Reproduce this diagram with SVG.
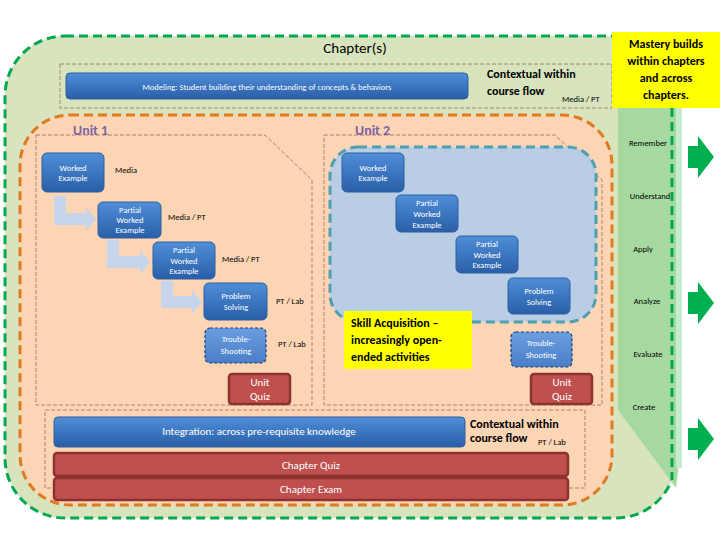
<svg xmlns="http://www.w3.org/2000/svg" width="720" height="540" viewBox="0 0 720 540">
<defs>
<linearGradient id="bg" x1="0" y1="0" x2="0" y2="1"><stop offset="0" stop-color="#4f8fd8"/><stop offset="1" stop-color="#2a5ea8"/></linearGradient>
<linearGradient id="bg2" x1="0" y1="0" x2="0" y2="1"><stop offset="0" stop-color="#6a9ee0"/><stop offset="1" stop-color="#4a7fc8"/></linearGradient>
</defs>
<style>
text{font-family:Calibri,"Liberation Sans",sans-serif}
.n{fill:url(#bg);stroke:#2f5f9f;stroke-width:1}
.ts{fill:url(#bg2);stroke:#1f3f7f;stroke-width:1.2;stroke-dasharray:3 2}
.q{fill:#c0504d;stroke:#8c3330;stroke-width:2.5}
.w{fill:#fff;font-size:8.5px;text-anchor:middle}
.wl{fill:#fff;font-size:11px;text-anchor:middle}
.k{fill:#000;font-size:8.5px}
.kb{fill:#000;font-size:12px;font-weight:bold}
.dd{fill:none;stroke:#9a6a5a;stroke-width:0.8;stroke-dasharray:4 2}
.u{fill:#8064a2;font-size:14px;font-weight:bold}
.fl{fill:#c6d5ea}
.ga{fill:#00b050}
</style>
<rect x="5" y="36" width="671" height="482" rx="60" fill="#d7e4bd" stroke="#00a850" stroke-width="3" stroke-dasharray="9 5"/>
<rect x="60" y="64" width="552" height="44" class="dd"/>
<text x="355" y="53" font-size="15" text-anchor="middle" fill="#000">Chapter(s)</text>
<g id="modeling"><rect x="66" y="73" width="402" height="26" rx="4" class="n"/><text x="267" y="90" class="w" font-size="10.5">Modeling: Student building their understanding of concepts &amp; behaviors</text></g>
<text x="487" y="78" class="kb">Contextual within</text>
<text x="487" y="95" class="kb">course flow</text>
<text x="562" y="102" class="k">Media / PT</text>
<g id="bloom">
<path d="M618,108 H678 V472 L676,488 L618,410 Z" fill="#a6d9a0"/>
<rect x="676" y="108" width="6" height="360" fill="#c6ecd0"/>
<line x1="672" y1="108" x2="672" y2="480" stroke="#00a850" stroke-width="3" stroke-dasharray="9 5"/>
<text x="648" y="146" class="k" text-anchor="middle">Remember</text>
<text x="650" y="199" class="k" text-anchor="middle">Understand</text>
<text x="643" y="252" class="k" text-anchor="middle">Apply</text>
<text x="647" y="304" class="k" text-anchor="middle">Analyze</text>
<text x="648" y="357" class="k" text-anchor="middle">Evaluate</text>
<text x="644" y="410" class="k" text-anchor="middle">Create</text>
<path class="ga" d="M688,146 H698 V136 L714,157 L698,178 V168 H688 Z"/>
<path class="ga" d="M688,292 H698 V282 L714,303 L698,324 V314 H688 Z"/>
<path class="ga" d="M688,428 H698 V418 L714,439 L698,460 V450 H688 Z"/>
</g>
<g id="mastery"><rect x="612" y="32" width="108" height="76" fill="#ffff00"/>
<text x="666" y="48" class="kb" text-anchor="middle">Mastery builds</text>
<text x="666" y="65" class="kb" text-anchor="middle">within chapters</text>
<text x="666" y="82" class="kb" text-anchor="middle">and across</text>
<text x="666" y="99" class="kb" text-anchor="middle">chapters.</text></g>
<rect x="20" y="115" width="592" height="390" rx="50" fill="#fcd5b5" stroke="#e07b20" stroke-width="3" stroke-dasharray="9 5"/>
<g id="unit1">
<path d="M36,135 H265 L312,180 V405 H36 Z" class="dd"/>
<text x="73" y="135" class="u">Unit 1</text>
</g>
<g id="unit2">
<path d="M324,135 H555 L602,180 V405 H324 Z" class="dd"/>
<text x="355" y="135" class="u">Unit 2</text>
<rect x="330" y="147" width="266" height="175" rx="28" fill="#b9cde5" stroke="#4f9fb0" stroke-width="3" stroke-dasharray="9 5"/>
</g>
<g id="connectors">
<path class="fl" d="M54,196 H66 V213 H86 V207 L96,219 L86,231 V225 H54 Z"/>
<path class="fl" d="M107,240 H119 V256 H140 V250 L150,262 L140,274 V268 H107 Z"/>
<path class="fl" d="M161,281 H173 V296 H192 V290 L202,302 L192,314 V308 H161 Z"/>
</g>
<g id="n-we1"><rect x="42" y="153" width="62" height="39" rx="5" class="n"/><text x="73" y="171" class="w">Worked</text><text x="73" y="181" class="w">Example</text></g>
<text x="115" y="173" class="k">Media</text>
<g id="n-pwe1"><rect x="98" y="202" width="63" height="36" rx="5" class="n"/><text x="130" y="213" class="w">Partial</text><text x="130" y="223" class="w">Worked</text><text x="130" y="233" class="w">Example</text></g>
<text x="168" y="220" class="k">Media / PT</text>
<g id="n-pwe2"><rect x="153" y="242" width="62" height="37" rx="5" class="n"/><text x="184" y="253" class="w">Partial</text><text x="184" y="264" class="w">Worked</text><text x="184" y="274" class="w">Example</text></g>
<text x="222" y="262" class="k">Media / PT</text>
<g id="n-ps1"><rect x="204" y="283" width="63" height="37" rx="5" class="n"/><text x="236" y="299" class="w">Problem</text><text x="236" y="310" class="w">Solving</text></g>
<text x="276" y="304" class="k">PT / Lab</text>
<g id="n-ts1"><rect x="205" y="328" width="61" height="35" rx="5" class="ts"/><text x="236" y="342" class="w">Trouble-</text><text x="236" y="354" class="w">Shooting</text></g>
<text x="278" y="347" class="k">PT / Lab</text>
<g id="n-uq1"><rect x="229" y="374" width="61" height="30" rx="3" class="q"/><text x="260" y="386" class="wl">Unit</text><text x="260" y="400" class="wl">Quiz</text></g>
<g id="n-we2"><rect x="342" y="153" width="62" height="39" rx="5" class="n"/><text x="373" y="171" class="w">Worked</text><text x="373" y="181" class="w">Example</text></g>
<g id="n-pwe3"><rect x="396" y="195" width="62" height="37" rx="5" class="n"/><text x="427" y="206" class="w">Partial</text><text x="427" y="217" class="w">Worked</text><text x="427" y="228" class="w">Example</text></g>
<g id="n-pwe4"><rect x="456" y="236" width="62" height="37" rx="5" class="n"/><text x="487" y="247" class="w">Partial</text><text x="487" y="258" class="w">Worked</text><text x="487" y="268" class="w">Example</text></g>
<g id="n-ps2"><rect x="508" y="278" width="62" height="36" rx="5" class="n"/><text x="539" y="294" class="w">Problem</text><text x="539" y="305" class="w">Solving</text></g>
<g id="skill"><rect x="344" y="311" width="128" height="58" fill="#ffff00"/>
<text x="351" y="327" class="kb">Skill Acquisition –</text>
<text x="351" y="344" class="kb">increasingly open-</text>
<text x="351" y="361" class="kb">ended activities</text></g>
<g id="n-ts2"><rect x="511" y="332" width="61" height="35" rx="5" class="ts"/><text x="541" y="346" class="w">Trouble-</text><text x="541" y="358" class="w">Shooting</text></g>
<g id="n-uq2"><rect x="531" y="374" width="61" height="30" rx="3" class="q"/><text x="562" y="386" class="wl">Unit</text><text x="562" y="400" class="wl">Quiz</text></g>
<rect x="45" y="410" width="540" height="78" class="dd"/>
<g id="integration"><rect x="54" y="417" width="411" height="30" rx="4" class="n"/><text x="259" y="435" class="wl">Integration: across pre-requisite knowledge</text></g>
<text x="470" y="428" class="kb" font-size="11">Contextual within</text>
<text x="470" y="442" class="kb" font-size="11">course flow</text>
<text x="538" y="445" class="k">PT / Lab</text>
<g id="chapter-quiz"><rect x="54" y="453" width="514" height="23" rx="3" class="q"/><text x="311" y="469" class="wl">Chapter Quiz</text></g>
<g id="chapter-exam"><rect x="54" y="478" width="514" height="22" rx="3" class="q"/><text x="311" y="493" class="wl">Chapter Exam</text></g>
</svg>
